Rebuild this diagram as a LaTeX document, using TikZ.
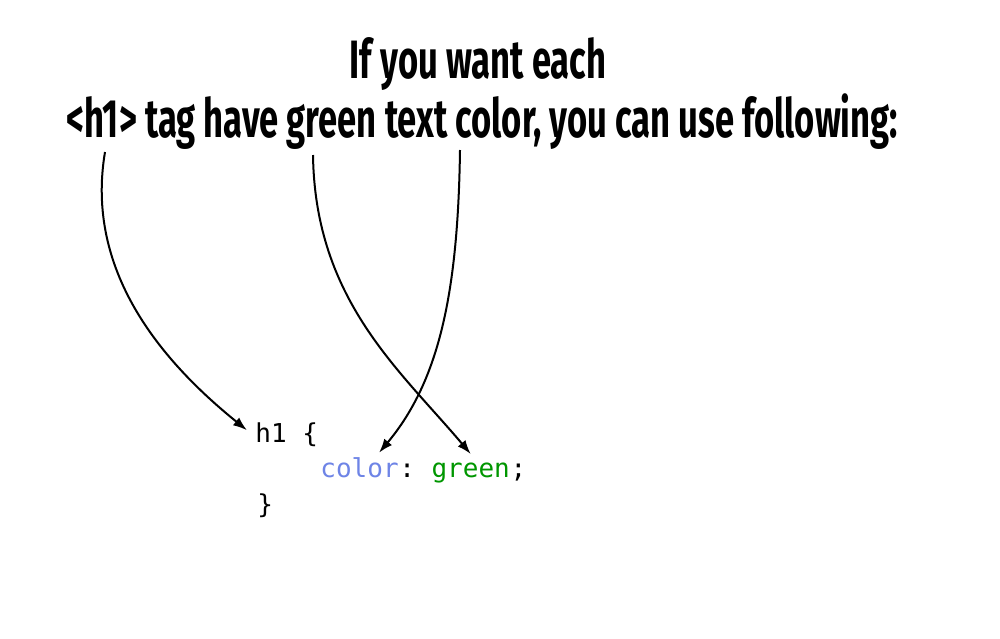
\documentclass[tikz,border=0pt]{standalone}
\usepackage{fontspec}
\usetikzlibrary{arrows.meta,positioning}
\newfontfamily\headfont[FakeStretch=0.64]{Fira Sans}
\newfontfamily\codefont{DejaVu Sans Mono}
\definecolor{propblue}{RGB}{110,132,230}
\definecolor{valgreen}{RGB}{0,150,0}
\tikzstyle{head} = [font=\headfont\bfseries\fontsize{27}{30}\selectfont, inner sep=0pt, anchor=base]
\tikzstyle{code} = [font=\codefont\fontsize{13}{15}\selectfont, inner sep=0pt, anchor=base west]
\tikzstyle{line} = [draw, line width=1pt, -{Latex[length=7pt,width=5pt]}]
\begin{document}
\begin{tikzpicture}[x=0.5pt, y=-0.5pt]
\useasboundingbox (0,0) rectangle (1000,638);
 \node [head] (L1) at (478,78) {If you want each};
 \node [head] (L2) at (482,137) {<h1> tag have green text color, you can use following:};
 \node [code] (H1) at (255,442) {h1 \{};
 \node [code] (CO) at (320,477) {\textcolor{propblue}{color}};
 \node [code] (CL) at (CO.base east) {:\hphantom{x}};
 \node [code] (GR) at (CL.base east) {\textcolor{valgreen}{green}};
 \node [code] (SC) at (GR.base east) {;};
 \node [code] (CB) at (257,513) {\}};
 \coordinate (tag) at (105,152);
 \coordinate (grn) at (313,155);
 \coordinate (col) at (460,150);
 \path [line] (tag) .. controls (85,270) and (160,360) .. ([xshift=-4pt,yshift=2pt]H1.west);
 \path [line] (grn) .. controls (315,300) and (400,370) .. ([yshift=4pt]GR.north);
 \path [line] (col) .. controls (458,290) and (440,380) .. ([xshift=-10pt,yshift=2pt]CO.north east);
\end{tikzpicture}
\end{document}
